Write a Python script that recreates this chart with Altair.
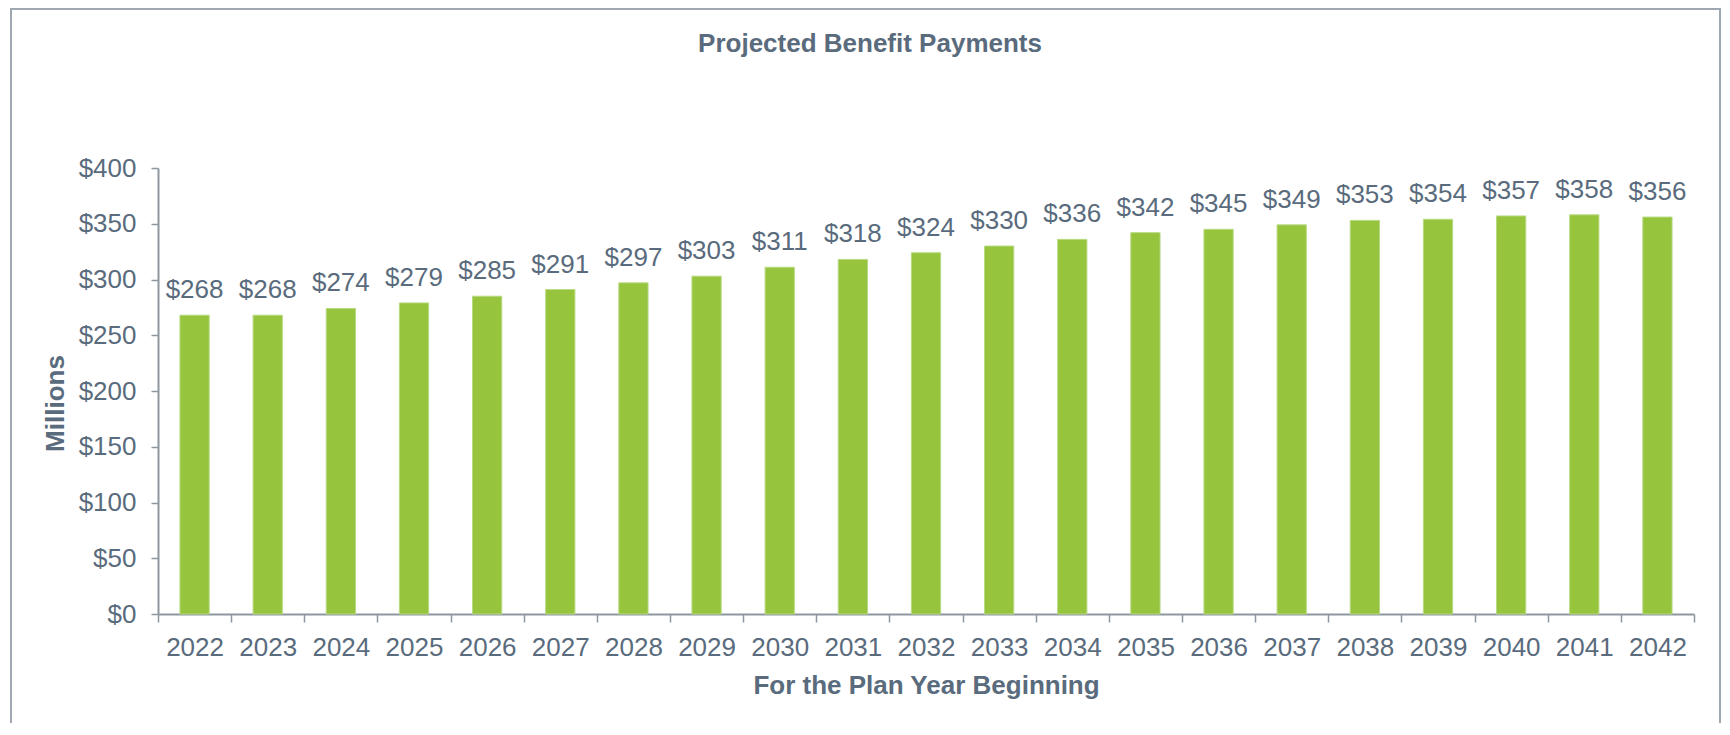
import altair as alt
import pandas as pd

# ---- data ----
years = ["2022", "2023", "2024", "2025", "2026", "2027", "2028", "2029", "2030",
         "2031", "2032", "2033", "2034", "2035", "2036", "2037", "2038", "2039",
         "2040", "2041", "2042"]
payments = [268, 268, 274, 279, 285, 291, 297, 303, 311, 318, 324, 330, 336,
            342, 345, 349, 353, 354, 357, 358, 356]
y_tick_values = [0, 50, 100, 150, 200, 250, 300, 350, 400]

title_text = "Projected Benefit Payments"
x_title = "For the Plan Year Beginning"
y_title = "Millions"

df = pd.DataFrame({"year": years, "value": payments})

TEXT = "#596B7C"
AXIS = "#8E979F"
GREEN = "#96C43D"
FONT = "Liberation Sans"

x_enc = alt.X(
    "year:N",
    sort=years,
    scale=alt.Scale(paddingInner=0, paddingOuter=0),
    axis=alt.Axis(
        title=x_title,
        labelAngle=0,
        tickBand="extent",
        tickSize=8,
        tickWidth=1.5,
        tickColor=AXIS,
        domainColor=AXIS,
        domainWidth=2,
        labelPadding=33,
        labelBaseline="alphabetic",
        labelFontSize=26,
        labelColor=TEXT,
        labelFont=FONT,
        labelOverlap=False,
        titleFontSize=26,
        titleFontWeight="bold",
        titleFont=FONT,
        titleColor=TEXT,
        titleBaseline="alphabetic",
        titleY=79,
    ),
)

y_enc = alt.Y(
    "value:Q",
    scale=alt.Scale(domain=[0, 400], nice=False),
    axis=alt.Axis(
        title=y_title,
        values=y_tick_values,
        format="$,.0f",
        grid=False,
        tickSize=7,
        tickWidth=1.5,
        tickColor=AXIS,
        domainColor=AXIS,
        domainWidth=2,
        labelPadding=15,
        labelFontSize=26,
        labelColor=TEXT,
        labelFont=FONT,
        labelFlush=False,
        titleFontSize=26,
        titleFontWeight="bold",
        titleFont=FONT,
        titleColor=TEXT,
        titleBaseline="alphabetic",
        titleX=-95,
        titleY=235,
    ),
)

# decorative outer frame
border = alt.Chart(alt.Data(values=[{}])).mark_rect(
    filled=False, stroke="#9FA8B0", strokeWidth=2
).encode(
    x=alt.value(-147), x2=alt.value(1562), y=alt.value(-159), y2=alt.value(700)
)

# chart title as a text mark (kept out of Vega's title layout)
title = alt.Chart(alt.Data(values=[{"t": title_text}])).mark_text(
    align="center", baseline="alphabetic", fontSize=26, fontWeight="bold",
    font=FONT, color=TEXT
).encode(x=alt.value(712), y=alt.value(-116), text="t:N")

bars = alt.Chart(df).mark_bar(
    width=alt.RelativeBandSize(0.4), color=GREEN, stroke="#B9DA83", strokeWidth=1
).encode(x=x_enc, y=y_enc)

labels = alt.Chart(df).mark_text(
    baseline="alphabetic", dy=-17, fontSize=26, font=FONT, color=TEXT
).encode(
    x=alt.X("year:N", sort=years),
    y=alt.Y("value:Q"),
    text=alt.Text("value:Q", format="$,.0f"),
)

chart = alt.layer(border, title, bars, labels).properties(
    width=1536,
    height=446,
    autosize="none",
    padding={"left": 150, "top": 160, "right": 28, "bottom": 109},
).configure_view(stroke=None)

chart.save("out.html", embed_options={"renderer": "svg", "actions": False})
